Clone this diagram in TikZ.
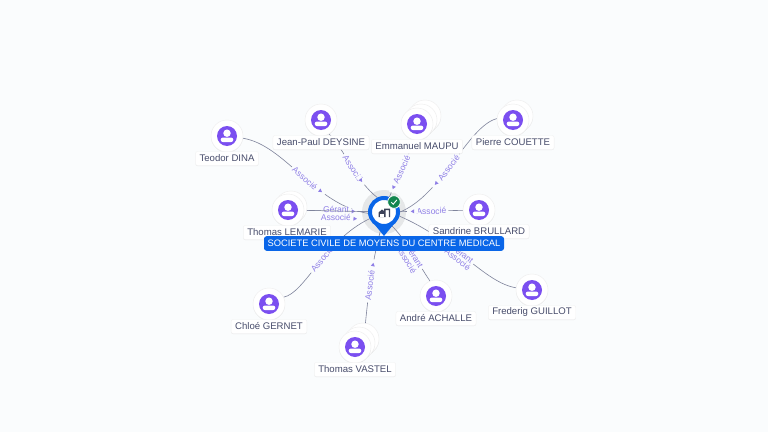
\documentclass[tikz,border=0pt]{standalone}
\usepackage{fontspec}
\setmainfont{Liberation Sans}
\usepackage{tikz}
\usetikzlibrary{backgrounds}
\usetikzlibrary{shadows}
\definecolor{pagebg}{HTML}{FAFCFD}
\definecolor{halogray}{HTML}{E5E7E8}
\definecolor{pinblue}{HTML}{0A66E8}
\definecolor{badgegreen}{HTML}{12864F}
\definecolor{iconviolet}{HTML}{7B4FF0}
\definecolor{rolelilac}{HTML}{8F7FE6}
\definecolor{linkgray}{HTML}{7F849C}
\definecolor{namedark}{HTML}{474C6B}
\definecolor{buildingdark}{HTML}{3C4258}
\tikzset{softshadow/.style = {general shadow = {fill = black, opacity = 0.08, scale = 1.06, shadow yshift = -0.4pt}}}
\tikzset{person/.style = {circle, fill = white, draw = black!7, line width = 0.3pt, minimum size = 24pt, inner sep = 0, softshadow}}
\tikzset{namecard/.style = {fill = white, draw = black!5, line width = 0.3pt, rounded corners = 1.5pt, inner xsep = 3pt, inner ysep = 0, minimum height = 10.5pt,
                            text = namedark, font = \fontsize{7.2}{8}\selectfont, softshadow}}
\tikzset{link/.style = {draw = linkgray, line width = 0.45pt}}
\tikzset{role/.style = {sloped, fill = pagebg, inner xsep = 1.5pt, inner ysep = 0, text = rolelilac,
                        font = \fontsize{6.4}{7}\selectfont}}
\tikzset{sidelabel/.style = {role, fill = none}}
\tikzset{tip/.style = {sloped, allow upside down, fill = pagebg, minimum width = 8pt, minimum height = 3.4pt, inner sep = 0,
                       path picture = {\fill [rolelilac] (path picture bounding box.center) ++(-1.2pt, -1.5pt) -- ++(0pt, 3pt) -- ++(2.6pt, -1.5pt) -- cycle;}}}
\tikzset{personicon/.pic = {
    \fill [iconviolet] (0, 0) circle (7.5pt);
    \fill [white] (0, -2.8) circle (2.8pt);
    \fill [white, rounded corners = 1.6pt] (-6.3, 6) -- (-6.3, 1.6) -- (6.3, 1.6) -- (6.3, 6) -- cycle;
}}
\begin{document}
\begin{tikzpicture}[x = 0.75pt, y = -0.75pt]
    \useasboundingbox (0, 0) rectangle (768, 432);
    \foreach \bx/\by in {291/207, 425/116, 421/120, 517/116, 363/339, 359/343}
        \node at (\bx, \by) [person] {};
    \foreach \n/\x/\y in {teodor/227/136, jeanpaul/321/120, emmanuel/417/124, pierre/513/120, lemarie/288/210,
                          sandrine/479/210, chloe/269/304, vastel/355/347, andre/436/296, frederig/532/290}
    {
        \node (\n) at (\x, \y) [person] {};
        \pic at (\n) {personicon};
    }
    \node (teodorname) at (227, 158.5) [namecard] {Teodor DINA};
    \node (jeanpaulname) at (321, 142.5) [namecard] {Jean-Paul DEYSINE};
    \node (emmanuelname) at (417, 146.5) [namecard] {Emmanuel MAUPU};
    \node (pierrename) at (513, 142.5) [namecard] {Pierre COUETTE};
    \node (lemariename) at (287, 232.5) [namecard] {Thomas LEMARIE};
    \node (sandrinename) at (479, 231.5) [namecard] {Sandrine BRULLARD};
    \node (chloename) at (269, 326.5) [namecard] {Chloé GERNET};
    \node (vastelname) at (355, 369.5) [namecard] {Thomas VASTEL};
    \node (andrename) at (436, 318.5) [namecard] {André ACHALLE};
    \node (frederigname) at (532, 312.5) [namecard] {Frederig GUILLOT};
    \fill [pinblue] (372.5, 222) -- (395.5, 222) -- (384, 236) -- cycle;
    \node (hub) at (384, 212) [circle, fill = white, draw = pinblue, line width = 3pt, minimum size = 21pt, inner sep = 0] {};
    \fill [buildingdark] (378.5, 217) -- (378.5, 212.5) -- (382, 209.5) -- (384, 211) -- (384, 208.5) -- (390, 208.5) -- (390, 217) -- (388.8, 217) -- (388.8, 210) -- (385.5, 210) -- (385.5, 217) -- cycle;
    \fill [white] (380.2, 217) rectangle (383.6, 214);
    \node (badge) at (394, 202) [circle, fill = badgegreen, draw = white, line width = 0.6pt, minimum size = 9.5pt, inner sep = 0] {};
    \draw [white, line width = 0.7pt] (391.3, 202.2) -- (393.2, 204.2) -- (396.8, 200);
    \node (banner) at (384, 243.5) [fill = pinblue, rounded corners = 2pt, minimum width = 180pt, minimum height = 11pt, inner sep = 0,
                                    text = white, font = \fontsize{7}{8}\selectfont] {SOCIETE CIVILE DE MOYENS DU CENTRE MEDICAL};
    \begin{scope}[on background layer]
        \fill [pagebg] (0, 0) rectangle (768, 432);
        \node (halo) at (384, 212) [circle, fill = halogray, minimum size = 33pt, inner sep = 0] {};
        \draw [link] (teodor.-8) .. controls (285, 145) and (315, 205) .. node [role, pos = 0.53] {Associé} node [tip, pos = 0.66] {} (hub.185);
        \draw [link] (jeanpaul.-60) .. controls (345, 150) and (355, 180) .. node [role, pos = 0.55] {Associé} node [tip, pos = 0.72] {} (hub.115);
        \draw [link] (emmanuel.-100) .. controls (407, 160) and (396, 180) .. node [role, pos = 0.5] {Associé} node [tip, pos = 0.82] {} (hub.70);
        \draw [link] (pierre.175) .. controls (468, 126) and (442, 195) .. node [role, pos = 0.55] {Associé} node [tip, pos = 0.68] {} (hub.0);
        \draw [link] (lemarie) -- node [role, pos = 0.5, yshift = 1pt] {Gérant} node [tip, pos = 0.77] {} (hub);
        \draw [link] (lemarie) -- node [role, pos = 0.5, yshift = -5pt] {Associé} node [tip, pos = 0.8, yshift = -5.5pt] {} (hub);
        \draw [link] (sandrine) -- node [role, pos = 0.5] {Associé} node [tip, pos = 0.8] {} (hub);
        \draw [link] (chloe.25) .. controls (305, 293) and (325, 240) .. node [role, pos = 0.55] {Associé} (hub.205);
        \draw [link] (vastel.-65) .. controls (367, 305) and (370, 270) .. node [role, pos = 0.53] {Associé} node [tip, pos = 0.7] {} (hub.-100);
        \draw [link] (andre.112) .. controls (417, 262) and (410, 245) .. node [role, pos = 0.5, xshift = 2.25pt] {Gérant} node [sidelabel, pos = 0.5, xshift = 1.5pt, yshift = -6.5pt] {Associé} (hub.-60);
        \draw [link] (frederig.172) .. controls (485, 283) and (455, 240) .. node [role, pos = 0.55, yshift = 1pt] {Gérant} node [sidelabel, pos = 0.55, yshift = -4.4pt] {Associé} (hub.-15);
    \end{scope}
\end{tikzpicture}
\end{document}
